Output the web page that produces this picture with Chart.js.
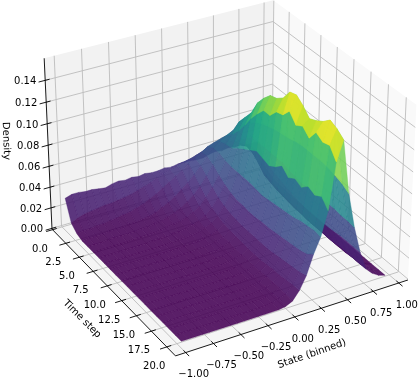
<!DOCTYPE html>
<html>
<head>
<meta charset="utf-8">
<script src="https://cdn.jsdelivr.net/npm/chart.js@4"></script>
<style>
  html, body { margin: 0; padding: 0; background: #fff; }
  canvas { display: block; }
</style>
</head>
<body>
<canvas id="chart" width="419" height="383"></canvas>
<script>
const stateBins = [-0.96, -0.896, -0.832, -0.768, -0.704, -0.64, -0.576, -0.512, -0.448, -0.384, -0.32, -0.256, -0.192, -0.128, -0.064, 0, 0.064, 0.128, 0.192, 0.256, 0.32, 0.384, 0.448, 0.512, 0.576, 0.64, 0.704, 0.768, 0.832, 0.896, 0.96]
const timeSteps = [0, 1, 2, 3, 4, 5, 6, 7, 8, 9, 10, 11, 12, 13, 14, 15, 16, 17, 18, 19, 20]

// one row per time step, one value per state bin
const density = [
  [.026,.028,.028,.027,.027,.026,.025,.027,.028,.027,.028,.027,.028,.027,.027,.028,.027,.028,.028,.028,.027,.027,.029,.030,.029,.030,.029,.029,.028,.028,.027],
  [.007,.010,.012,.013,.014,.015,.015,.016,.017,.018,.020,.022,.024,.027,.029,.031,.033,.035,.036,.038,.040,.041,.041,.043,.044,.041,.038,.033,.024,.014,.006],
  [.002,.003,.003,.004,.004,.005,.006,.007,.008,.010,.012,.015,.018,.022,.026,.030,.034,.038,.042,.046,.050,.052,.054,.055,.052,.048,.042,.032,.020,.009,.003],
  [0,.001,.001,.001,.002,.002,.002,.003,.003,.004,.005,.007,.010,.013,.017,.022,.027,.033,.040,.047,.053,.058,.062,.065,.062,.054,.044,.026,.012,.004,.001],
  [0,0,0,.001,.001,.001,.001,.001,.002,.002,.003,.004,.006,.008,.011,.015,.020,.027,.035,.044,.053,.060,.068,.078,.073,.060,.042,.022,.010,.003,.001],
  [0,0,0,0,0,0,.001,.001,.001,.001,.002,.003,.004,.005,.007,.010,.014,.021,.029,.039,.051,.061,.076,.087,.080,.060,.040,.020,.008,.002,0],
  [0,0,0,0,0,0,0,0,.001,.001,.001,.002,.002,.003,.005,.007,.010,.016,.024,.035,.050,.066,.086,.096,.085,.060,.038,.018,.007,.002,0],
  [0,0,0,0,0,0,0,0,0,0,.001,.001,.001,.002,.003,.005,.008,.013,.021,.032,.050,.070,.097,.110,.088,.060,.036,.016,.006,.001,0],
  [0,0,0,0,0,0,0,0,0,0,0,.001,.001,.001,.002,.004,.006,.011,.019,.030,.050,.074,.106,.119,.090,.060,.034,.015,.005,.001,0],
  [0,0,0,0,0,0,0,0,0,0,0,0,.001,.001,.002,.003,.005,.010,.018,.030,.050,.078,.114,.126,.092,.060,.032,.014,.005,.001,0],
  [0,0,0,0,0,0,0,0,0,0,0,0,0,.001,.001,.003,.005,.009,.017,.029,.049,.076,.114,.128,.093,.058,.030,.013,.004,.001,0],
  [0,0,0,0,0,0,0,0,0,0,0,0,0,.001,.001,.002,.004,.009,.017,.029,.048,.074,.122,.133,.094,.057,.029,.012,.004,.001,0],
  [0,0,0,0,0,0,0,0,0,0,0,0,0,0,.001,.002,.004,.008,.017,.030,.049,.078,.124,.143,.096,.056,.028,.012,.004,.001,0],
  [0,0,0,0,0,0,0,0,0,0,0,0,0,0,.001,.002,.004,.008,.017,.030,.050,.084,.132,.145,.097,.056,.028,.012,.004,.001,0],
  [0,0,0,0,0,0,0,0,0,0,0,0,0,0,.001,.002,.004,.008,.017,.031,.051,.078,.124,.140,.097,.056,.028,.011,.004,.001,0],
  [0,0,0,0,0,0,0,0,0,0,0,0,0,0,.001,.002,.004,.009,.018,.032,.052,.082,.128,.133,.097,.056,.028,.011,.004,.001,0],
  [0,0,0,0,0,0,0,0,0,0,0,0,0,0,.001,.002,.005,.010,.019,.033,.053,.079,.122,.136,.097,.057,.029,.012,.004,.001,0],
  [0,0,0,0,0,0,0,0,0,0,0,0,0,0,.001,.002,.005,.010,.020,.034,.055,.085,.132,.140,.096,.057,.030,.012,.005,.002,0],
  [0,0,0,0,0,0,0,0,0,0,0,0,0,0,.001,.002,.005,.011,.021,.035,.056,.082,.128,.146,.094,.056,.030,.012,.005,.002,0],
  [0,0,0,0,0,0,0,0,0,0,0,0,0,0,.001,.003,.005,.012,.022,.037,.057,.086,.130,.143,.092,.056,.030,.012,.006,.002,0],
  [0,0,0,0,0,0,0,0,0,0,0,0,0,0,0,.001,.004,.012,.024,.042,.056,.078,.120,.138,.088,.055,.030,.012,.006,.002,0]
]

const stateTicks = [-1, -0.75, -0.5, -0.25, 0, 0.25, 0.5, 0.75, 1]
const stateTickLabels = ['\u22121.00', '\u22120.75', '\u22120.50', '\u22120.25', '0.00', '0.25', '0.50', '0.75', '1.00']
const timeTicks = [0, 2.5, 5, 7.5, 10, 12.5, 15, 17.5, 20]
const timeTickLabels = ['0.0', '2.5', '5.0', '7.5', '10.0', '12.5', '15.0', '17.5', '20.0']
const densityTicks = [0, 0.02, 0.04, 0.06, 0.08, 0.1, 0.12, 0.14]
const densityTickLabels = ['0.00', '0.02', '0.04', '0.06', '0.08', '0.10', '0.12', '0.14']

// axis limits, the time axis runs towards the viewer
const xLim = [-1.0909, 1.0909]
const tLim = [-0.1, 21.4]
const zLim = [-0.0008, 0.16]

const viridis = ['#440154', '#482475', '#414487', '#355f8d', '#2a788e', '#21918c', '#22a884', '#44bf70', '#7ad151', '#bddf26', '#fde725']
const surfaceAlpha = 0.88
const colorMax = 0.14
const colorPower = 1.25

// same camera maths as mplot3d: elev 30, azim -120, dist 10
const boxK = 1.8294640721620434 * 25 / 24 / Math.sqrt(41)
const box = [4 * boxK, 4 * boxK, 3 * boxK]
const el = 30 * Math.PI / 180, az = -120 * Math.PI / 180, camDist = 10
const nv = [Math.cos(el) * Math.cos(az), Math.cos(el) * Math.sin(az), Math.sin(el)]
const uv = [-Math.sin(az), Math.cos(az), 0]
const vv = [-Math.sin(el) * Math.cos(az), -Math.sin(el) * Math.sin(az), Math.cos(el)]

function project(x, t, z){
  const d = [
    ((x - xLim[0]) / (xLim[1] - xLim[0]) - 0.5) * box[0],
    ((tLim[1] - t) / (tLim[1] - tLim[0]) - 0.5) * box[1],
    ((z - zLim[0]) / (zLim[1] - zLim[0]) - 0.5) * box[2]
  ]
  const dot = (a) => a[0] * d[0] + a[1] * d[1] + a[2] * d[2]
  const w = camDist - dot(nv)
  return {x: dot(uv) / w, y: dot(vv) / w, depth: w}
}

function viridisColor(f){
  const p = Math.min(Math.max(f, 0), 1) * (viridis.length - 1)
  const i = Math.min(Math.floor(p), viridis.length - 2)
  const hex = (s, k) => parseInt(s.substr(1 + k * 2, 2), 16)
  const mix = (k) => Math.round(hex(viridis[i], k) + (hex(viridis[i + 1], k) - hex(viridis[i], k)) * (p - i))
  return `rgba(${mix(0)},${mix(1)},${mix(2)},${surfaceAlpha})`
}

function polyline(points, color, width){
  return {
    data: points.map((p) => project(p[0], p[1], p[2])),
    showLine: true, fill: false, borderColor: color, borderWidth: width,
    pointRadius: 0, tension: 0, clip: false
  }
}

function pane(points, color){
  return {
    data: points.map((p) => project(p[0], p[1], p[2])),
    showLine: true, fill: 'shape', backgroundColor: color, borderColor: 'rgba(0,0,0,0)', borderWidth: 0,
    pointRadius: 0, tension: 0, clip: false
  }
}

function createDataSets(){
  const [x0, x1] = xLim, [t0, t1] = tLim, [z0, z1] = zLim
  const back = []   // painted first
  back.push(pane([[x0, t0, z0], [x1, t0, z0], [x1, t0, z1], [x0, t0, z1], [x0, t0, z0]], '#f2f2f2'))
  back.push(pane([[x1, t0, z0], [x1, t1, z0], [x1, t1, z1], [x1, t0, z1], [x1, t0, z0]], '#f9f9f9'))
  back.push(pane([[x0, t0, z0], [x1, t0, z0], [x1, t1, z0], [x0, t1, z0], [x0, t0, z0]], '#f5f5f5'))

  const gridColor = '#bcbcbc'
  stateTicks.forEach((x) => back.push(polyline([[x, t1, z0], [x, t0, z0], [x, t0, z1]], gridColor, 0.9)))
  timeTicks.forEach((t) => back.push(polyline([[x0, t, z0], [x1, t, z0], [x1, t, z1]], gridColor, 0.9)))
  densityTicks.forEach((z) => back.push(polyline([[x0, t0, z], [x1, t0, z], [x1, t1, z]], gridColor, 0.9)))

  back.push(polyline([[x0, t0, z0], [x0, t0, z1]], '#000', 0.9))
  back.push(polyline([[x0, t0, z0], [x0, t1, z0]], '#000', 0.9))
  back.push(polyline([[x0, t1, z0], [x1, t1, z0]], '#000', 0.9))
  stateTicks.forEach((x) => back.push(polyline([[x, t1 - 0.35, z0], [x, t1 + 0.55, z0]], '#000', 0.9)))
  timeTicks.forEach((t) => back.push(polyline([[x0 + 0.04, t, z0], [x0 - 0.06, t, z0]], '#000', 0.9)))
  densityTicks.forEach((z) => back.push(polyline([[x0 + 0.04, t0, z], [x0 - 0.06, t0, z]], '#000', 0.9)))

  const facets = []
  for (let i = 0; i < timeSteps.length - 1; i++) {
    for (let j = 0; j < stateBins.length - 1; j++) {
      const corners = [[j, i], [j + 1, i], [j + 1, i + 1], [j, i + 1], [j, i]]
      const pts = corners.map((c) => project(stateBins[c[0]], timeSteps[c[1]], density[c[1]][c[0]]))
      const mean = (density[i][j] + density[i][j + 1] + density[i + 1][j] + density[i + 1][j + 1]) / 4
      const color = viridisColor(Math.pow(mean / colorMax, colorPower))
      facets.push({
        depth: (pts[0].depth + pts[1].depth + pts[2].depth + pts[3].depth) / 4,
        set: {
          data: pts, showLine: true, fill: 'shape', backgroundColor: color,
          borderColor: color, borderWidth: 0.4, pointRadius: 0, tension: 0, clip: false
        }
      })
    }
  }
  facets.sort((a, b) => b.depth - a.depth) // far ones first

  // chart.js paints the last dataset first
  return back.concat(facets.map((f) => f.set)).reverse()
}

const textPlugin = {
  id: 'axisText',
  afterDraw(chart){
    const {ctx, scales} = chart
    const px = (p) => ({x: scales.x.getPixelForValue(p.x), y: scales.y.getPixelForValue(p.y)})
    ctx.save()
    ctx.fillStyle = '#000'
    ctx.font = '10px "DejaVu Sans"'
    ctx.textAlign = 'center'
    ctx.textBaseline = 'middle'
    densityTicks.forEach((z, i) => {
      const p = px(project(xLim[0], tLim[0], z))
      ctx.fillText(densityTickLabels[i], p.x - 20, p.y + 1.5)
    })
    timeTicks.forEach((t, i) => {
      const p = px(project(xLim[0], t, zLim[0]))
      ctx.fillText(timeTickLabels[i], p.x - 12.5, p.y + 19.5)
    })
    stateTicks.forEach((x, i) => {
      const p = px(project(x, tLim[1], zLim[0]))
      ctx.fillText(stateTickLabels[i], p.x + 8, p.y + 22)
    })
    const title = (text, x, y, deg) => {
      ctx.save()
      ctx.translate(x, y)
      ctx.rotate(deg * Math.PI / 180)
      ctx.fillText(text, 0, 0)
      ctx.restore()
    }
    title('Density', 6, 141, 88)
    title('Time step', 82, 319, 45)
    title('State (binned)', 312, 354, -19)
    ctx.restore()
  }
}

const pixelScale = 2237
new Chart(document.getElementById('chart'), {
  type: 'scatter',
  data: {datasets: createDataSets()},
  plugins: [textPlugin],
  options: {
    responsive: false,
    animation: false,
    events: [],
    devicePixelRatio: 1,
    layout: {padding: 0},
    plugins: {legend: {display: false}, tooltip: {enabled: false}},
    scales: {
      x: {type: 'linear', display: false, min: -226.7 / pixelScale, max: (419 - 226.7) / pixelScale},
      y: {type: 'linear', display: false, min: -(383 - 169.5) / pixelScale, max: 169.5 / pixelScale}
    }
  }
})
</script>
</body>
</html>
